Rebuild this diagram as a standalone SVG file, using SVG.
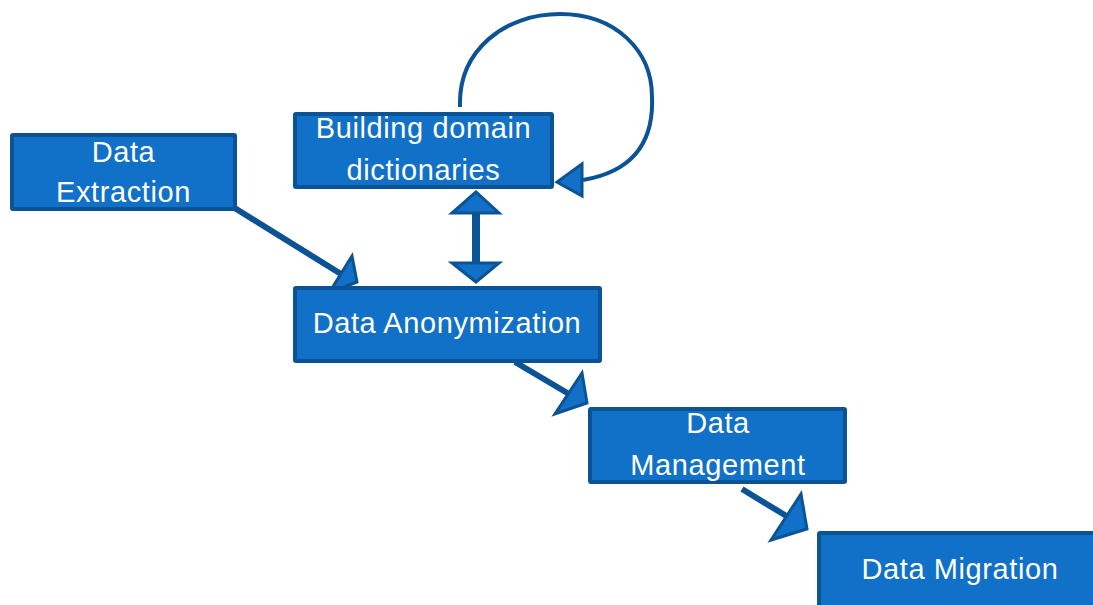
<svg xmlns="http://www.w3.org/2000/svg" width="1093" height="605" viewBox="0 0 1093 605">
<style>
.box{fill:#1170C7;stroke:#0B5394;stroke-width:4}
.lbl{fill:#FFFFFF;font-family:"Liberation Sans",Arial,sans-serif;font-size:29px;letter-spacing:0.6px;text-anchor:middle}
.ln{fill:none;stroke:#0B5394;stroke-width:6}
.loop{fill:none;stroke:#0B5394;stroke-width:4}
.ah{fill:#1170C7;stroke:#0B5394;stroke-width:3;stroke-linejoin:miter}
</style>
<rect width="1093" height="605" fill="#FFFFFF"/>
<g id="connectors">
  <line class="ln" x1="233" y1="207" x2="341" y2="274"/>
  <polygon class="ah" points="352,256 357,282 329,293"/>
  <line class="ln" x1="515" y1="362" x2="569" y2="394"/>
  <polygon class="ah" points="582,373 587,403 555,414"/>
  <line class="ln" x1="742" y1="489" x2="788" y2="517"/>
  <polygon class="ah" points="801,494 807,529 771,540"/>
  <line class="ln" x1="476" y1="212" x2="476" y2="264" style="stroke-width:8"/>
  <polygon class="ah" points="476,192 452,213 499,213"/>
  <polygon class="ah" points="452,263 499,263 476,282"/>
  <path class="loop" d="M460,107 C458,50 505,14 560,14 C615,14 652,50 652,97 C654,145 630,172 583,180"/>
  <polygon class="ah" points="582,164 582,196 557,182"/>
</g>
<g id="node-extraction">
  <rect class="box" x="12" y="135" width="223" height="74" rx="1"/>
  <text class="lbl" x="123.5" y="162">Data</text>
  <text class="lbl" x="123.5" y="202">Extraction</text>
</g>
<g id="node-dictionaries">
  <rect class="box" x="295" y="114" width="257" height="73" rx="1"/>
  <text class="lbl" x="423.5" y="138">Building domain</text>
  <text class="lbl" x="423.5" y="180">dictionaries</text>
</g>
<g id="node-anonymization">
  <rect class="box" x="295" y="288" width="305" height="73" rx="1"/>
  <text class="lbl" x="447" y="333">Data Anonymization</text>
</g>
<g id="node-management">
  <rect class="box" x="590" y="409" width="255" height="73" rx="1"/>
  <text class="lbl" x="718" y="433">Data</text>
  <text class="lbl" x="718" y="475">Management</text>
</g>
<g id="node-migration">
  <rect class="box" x="819" y="533" width="282" height="80" rx="1"/>
  <text class="lbl" x="960" y="579">Data Migration</text>
</g>
</svg>
